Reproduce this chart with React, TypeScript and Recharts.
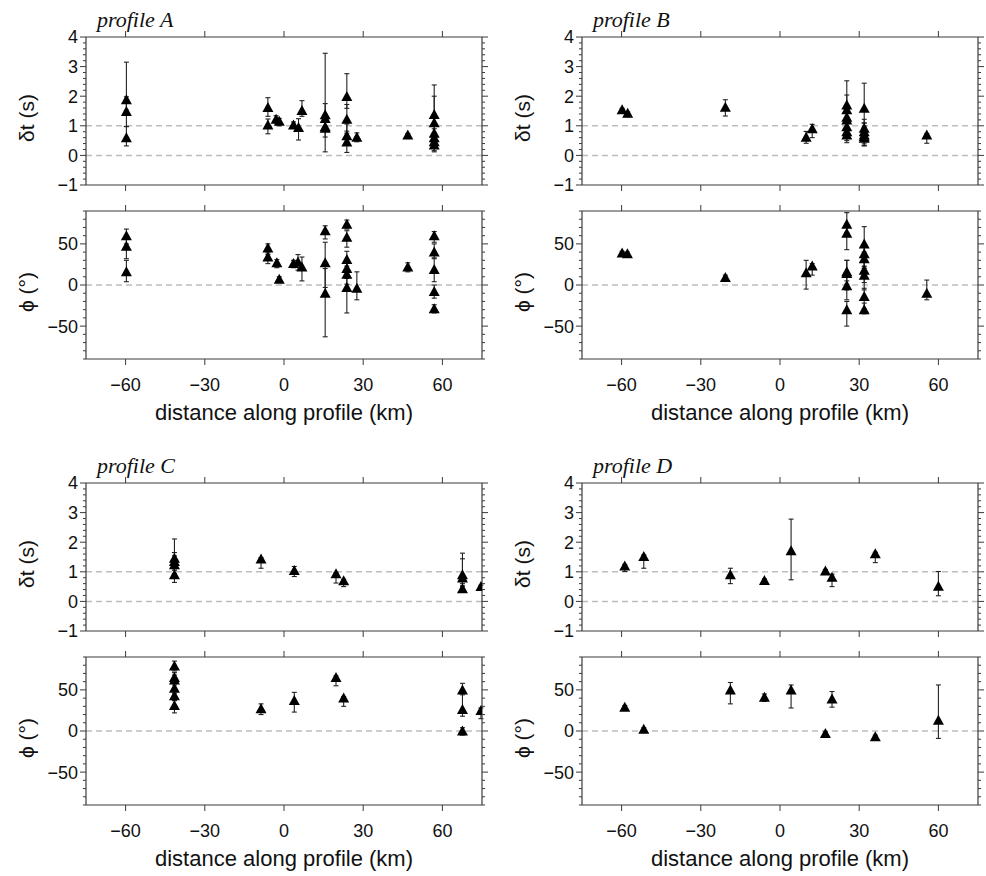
import React from 'react';
import { ScatterChart, Scatter, XAxis, YAxis, ErrorBar, ReferenceLine } from 'recharts';

// ---------- tick labels ----------
const X_TICKS = [-60, -30, 0, 30, 60];
const DT_TICKS = [-1, -0.8, -0.6, -0.4, -0.2, 0, 0.2, 0.4, 0.6, 0.8, 1, 1.2, 1.4, 1.6, 1.8, 2, 2.2, 2.4, 2.6, 2.8, 3, 3.2, 3.4, 3.6, 3.8, 4];
const PHI_TICKS = [-90, -80, -70, -60, -50, -40, -30, -20, -10, 0, 10, 20, 30, 40, 50, 60, 70, 80, 90];

// ---------- profile A ----------
const A_DT_X = [-59.7, -59.7, -59.7, -6.1, -6.1, -3.0, -1.8, 3.6, 5.5, 6.8, 15.6, 15.6, 15.6, 15.6, 23.8, 23.8, 23.8, 23.8, 27.6, 46.9, 56.9, 56.9, 56.9, 56.9, 56.9, 56.9];
const A_DT = [1.88, 1.48, 0.6, 1.62, 1.03, 1.22, 1.15, 1.03, 0.94, 1.52, 1.37, 1.25, 0.97, 0.92, 1.99, 1.22, 0.66, 0.45, 0.61, 0.69, 1.38, 1.1, 0.75, 0.6, 0.46, 0.35];
const A_DT_LO = [0.35, 0.5, 0.28, 0.3, 0.3, 0.12, 0.15, 0.1, 0.42, 0.2, 0.4, 0.3, 0.85, 0.3, 0.4, 0.4, 0.3, 0.35, 0.15, 0.12, 0.3, 0.4, 0.3, 0.3, 0.3, 0.23];
const A_DT_HI = [1.27, 0.5, 0.37, 0.33, 0.2, 0.12, 0.1, 0.1, 0.3, 0.33, 2.08, 0.5, 0.3, 0.2, 0.77, 0.5, 0.4, 0.3, 0.15, 0.05, 1.0, 0.9, 0.3, 0.3, 0.3, 0.2];

const A_PHI_X = [-59.7, -59.7, -59.7, -6.1, -6.1, -2.7, -1.8, 3.6, 5.3, 6.8, 15.6, 15.6, 15.6, 23.8, 23.8, 23.8, 23.8, 23.8, 23.8, 27.6, 46.9, 56.9, 56.9, 56.9, 56.9, 56.9];
const A_PHI = [60, 47, 16, 45, 34, 27, 7, 26, 28, 22, 66, 27, -10, 74, 58, 31, 20, 13, -3, -4, 22, 60, 40, 19, -8, -29];
const A_PHI_LO = [10, 15, 12, 8, 8, 6, 4, 5, 10, 17, 10, 30, 53, 6, 12, 15, 12, 12, 31, 14, 6, 8, 8, 15, 8, 5];
const A_PHI_HI = [8, 10, 14, 5, 5, 4, 3, 4, 9, 12, 6, 25, 30, 5, 8, 10, 10, 10, 15, 20, 5, 5, 10, 14, 8, 5];

// ---------- profile B ----------
const B_DT_X = [-59.8, -57.7, -20.7, 9.9, 12.2, 25.3, 25.3, 25.3, 25.3, 25.3, 25.3, 25.3, 31.9, 31.9, 31.9, 31.9, 31.9, 31.9, 55.6];
const B_DT = [1.54, 1.42, 1.63, 0.61, 0.9, 1.7, 1.54, 1.29, 1.2, 0.97, 0.8, 0.69, 1.59, 0.92, 0.8, 0.69, 0.63, 0.58, 0.69];
const B_DT_LO = [0.1, 0.12, 0.3, 0.2, 0.3, 0.5, 0.4, 0.4, 0.3, 0.3, 0.3, 0.26, 0.5, 0.3, 0.3, 0.3, 0.3, 0.26, 0.28];
const B_DT_HI = [0.05, 0.05, 0.25, 0.2, 0.15, 0.82, 0.5, 0.4, 0.3, 0.3, 0.3, 0.2, 0.85, 0.3, 0.3, 0.3, 0.3, 0.2, 0.05];

const B_PHI_X = [-59.8, -57.8, -20.7, 9.9, 12.2, 25.3, 25.3, 25.3, 25.3, 25.3, 25.3, 31.9, 31.9, 31.9, 31.9, 31.9, 31.9, 31.9, 55.6];
const B_PHI = [39, 38, 9, 15, 23, 74, 63, 16, 14, -1, -30, 50, 38, 32, 18, 12, -14, -30, -10];
const B_PHI_LO = [2, 2, 4, 20, 11, 10, 20, 15, 20, 17, 20, 20, 15, 12, 15, 18, 15, 5, 8];
const B_PHI_HI = [2, 2, 3, 15, 3, 14, 10, 14, 16, 6, 10, 21, 10, 8, 10, 10, 10, 8, 16];

// ---------- profile C ----------
const C_DT_X = [-41.5, -41.5, -41.5, -41.5, -8.7, 3.9, 19.7, 22.6, 67.6, 67.6, 67.6, 74.6];
const C_DT = [1.46, 1.35, 1.24, 0.9, 1.43, 1.04, 0.93, 0.7, 0.9, 0.79, 0.43, 0.5];
const C_DT_LO = [0.3, 0.3, 0.3, 0.26, 0.31, 0.2, 0.31, 0.2, 0.3, 0.3, 0.1, 0.1];
const C_DT_HI = [0.65, 0.3, 0.3, 0.2, 0.05, 0.14, 0.05, 0.05, 0.73, 0.65, 0.1, 0.05];

const C_PHI_X = [-41.5, -41.5, -41.5, -41.5, -41.5, -41.5, -8.7, 3.9, 19.7, 22.6, 67.6, 67.6, 67.6, 74.6];
const C_PHI = [79, 65, 62, 52, 43, 31, 27, 37, 65, 40, 50, 26, 0, 25];
const C_PHI_LO = [6, 6, 6, 6, 6, 9, 7, 14, 10, 10, 6, 8, 5, 10];
const C_PHI_HI = [6, 6, 6, 6, 6, 6, 6, 10, 2, 2, 8, 20, 4, 3];

// ---------- profile D ----------
const D_DT_X = [-58.8, -51.6, -18.8, -5.9, 4.2, 17.2, 19.7, 36.1, 60];
const D_DT = [1.2, 1.52, 0.9, 0.71, 1.71, 1.03, 0.82, 1.61, 0.51];
const D_DT_LO = [0.19, 0.4, 0.3, 0.05, 0.98, 0.1, 0.32, 0.3, 0.32];
const D_DT_HI = [0.05, 0.05, 0.22, 0.05, 1.07, 0.05, 0.1, 0.05, 0.5];

const D_PHI_X = [-58.8, -51.6, -18.8, -5.9, 4.2, 17.2, 19.7, 36.1, 60];
const D_PHI = [29, 2, 50, 41, 50, -3, 39, -7, 13];
const D_PHI_LO = [2, 2, 17, 5, 22, 2, 10, 2, 22];
const D_PHI_HI = [2, 2, 9, 4, 6, 2, 9, 2, 43];

// ---------- styling ----------
const AXIS = '#3a3a3a';
const SANS = '"Liberation Sans", Arial, Helvetica, sans-serif';
const SERIF = '"Liberation Serif", "Times New Roman", Times, serif';
const PL = 86;
const PT = 40;
const PW = 396;
const PH = 148;
const PR = 8;
const PB = 70;

const fmt = (v: number) => (v < 0 ? '\u2212' + Math.abs(v) : String(v));
const isMajor = (kind: string, v: number) =>
  kind === 'dt' ? Math.abs(v - Math.round(v)) < 1e-6 : Math.abs(v % 50) < 1e-6;

const Tri = (p: any) => {
  const { cx, cy } = p;
  if (cx == null || cy == null) return <g />;
  return (
    <polygon
      points={`${cx - 5.5},${cy + 4.5} ${cx + 5.5},${cy + 4.5} ${cx},${cy - 5.5}`}
      fill="#000"
    />
  );
};

type PanelProps = {
  left: number;
  top: number;
  kind: 'dt' | 'phi';
  xs: number[];
  ys: number[];
  lo: number[];
  hi: number[];
  title?: string;
  xLabels?: boolean;
};

function Panel({ left, top, kind, xs, ys, lo, hi, title, xLabels }: PanelProps) {
  const data = xs.map((x, i) => ({ x, y: ys[i], err: [lo[i], hi[i]] }));
  const domain: [number, number] = kind === 'dt' ? [-1, 4] : [-90, 90];
  const yTicks = kind === 'dt' ? DT_TICKS : PHI_TICKS;
  const yTitle = kind === 'dt' ? '\u03B4t (s)' : '\u03D5 (\u00B0)';

  const leftTick = (p: any) => {
    const { x, y, payload } = p;
    const v = payload.value;
    const major = isMajor(kind, v);
    return (
      <g>
        <line x1={x - (major ? 6 : 3)} x2={x} y1={y} y2={y} stroke={AXIS} strokeWidth={1} />
        {major && (
          <text x={x - 8} y={y} dy="0.36em" textAnchor="end" fontSize={18} fontFamily={SANS} fill="#111">
            {fmt(v)}
          </text>
        )}
      </g>
    );
  };
  const rightTick = (p: any) => {
    const { x, y, payload } = p;
    const major = isMajor(kind, payload.value);
    return <line x1={x} x2={x + (major ? 6 : 3)} y1={y} y2={y} stroke={AXIS} strokeWidth={1} />;
  };
  const topTick = (p: any) => {
    const { x, y } = p;
    return <line x1={x} x2={x} y1={y - 6} y2={y} stroke={AXIS} strokeWidth={1} />;
  };
  const bottomTick = (p: any) => {
    const { x, y, payload } = p;
    return (
      <g>
        <line x1={x} x2={x} y1={y} y2={y + 6} stroke={AXIS} strokeWidth={1} />
        {xLabels && (
          <text x={x} y={y + 31.5} textAnchor="middle" fontSize={18} fontFamily={SANS} fill="#111">
            {fmt(payload.value)}
          </text>
        )}
      </g>
    );
  };

  const yTitleX = PL - 52;
  const yTitleY = PT + PH / 2 + 7;

  return (
    <div style={{ position: 'absolute', left: left - PL, top: top - PT }}>
      <ScatterChart width={PL + PW + PR} height={PT + PH + PB} margin={{ top: 0, right: 0, bottom: 0, left: 0 }}>
        <XAxis
          xAxisId="b"
          type="number"
          dataKey="x"
          orientation="bottom"
          domain={[-75, 75]}
          ticks={X_TICKS}
          interval={0}
          allowDataOverflow
          height={PB}
          tickSize={0}
          tickMargin={0}
          tickLine={false}
          axisLine={{ stroke: AXIS, strokeWidth: 1.2 }}
          tick={bottomTick}
          label={
            xLabels
              ? {
                  content: () => (
                    <text x={PL + PW / 2} y={PT + PH + 61} textAnchor="middle" fontSize={22} fontFamily={SANS} fill="#111">
                      distance along profile (km)
                    </text>
                  ),
                }
              : undefined
          }
        />
        <XAxis
          xAxisId="t"
          type="number"
          dataKey="x"
          orientation="top"
          domain={[-75, 75]}
          ticks={X_TICKS}
          interval={0}
          allowDataOverflow
          height={PT}
          tickSize={0}
          tickMargin={0}
          tickLine={false}
          axisLine={{ stroke: AXIS, strokeWidth: 1.2 }}
          tick={topTick}
          label={
            title
              ? {
                  content: () => (
                    <text x={PL + 11} y={PT - 10} fontSize={22} fontStyle="italic" fontFamily={SERIF} fill="#111">
                      {title}
                    </text>
                  ),
                }
              : undefined
          }
        />
        <YAxis
          yAxisId="l"
          type="number"
          dataKey="y"
          orientation="left"
          domain={domain}
          ticks={yTicks}
          interval={0}
          allowDataOverflow
          width={PL}
          tickSize={0}
          tickMargin={0}
          tickLine={false}
          axisLine={{ stroke: AXIS, strokeWidth: 1.2 }}
          tick={leftTick}
          label={{
            content: () => (
              <text
                x={yTitleX}
                y={yTitleY}
                transform={`rotate(-90, ${yTitleX}, ${yTitleY})`}
                textAnchor="middle"
                fontSize={21}
                fontFamily={SANS}
                fill="#111"
              >
                {yTitle}
              </text>
            ),
          }}
        />
        <YAxis
          yAxisId="r"
          type="number"
          dataKey="y"
          orientation="right"
          domain={domain}
          ticks={yTicks}
          interval={0}
          allowDataOverflow
          width={PR}
          tickSize={0}
          tickMargin={0}
          tickLine={false}
          axisLine={{ stroke: AXIS, strokeWidth: 1.2 }}
          tick={rightTick}
        />
        {kind === 'dt' && (
          <ReferenceLine xAxisId="b" yAxisId="l" y={1} stroke="#bdbdbd" strokeWidth={1.5} strokeDasharray="6 4" />
        )}
        <ReferenceLine xAxisId="b" yAxisId="l" y={0} stroke="#bdbdbd" strokeWidth={1.5} strokeDasharray="6 4" />
        <Scatter
          xAxisId="b"
          yAxisId="l"
          data={data}
          dataKey="y"
          shape={Tri}
          isAnimationActive={false}
        >
          <ErrorBar dataKey="err" direction="y" width={2.5} stroke="#222" strokeWidth={1.1} isAnimationActive={false} />
        </Scatter>
      </ScatterChart>
    </div>
  );
}

export default function App() {
  const L1 = 86;
  const L2 = 582;
  const T_DT1 = 37;
  const T_PHI1 = 211;
  const T_DT2 = 483;
  const T_PHI2 = 657;
  return (
    <div style={{ position: 'absolute', left: 0, top: 0, width: 986, height: 876, background: '#fff', overflow: 'hidden' }}>
      <Panel left={L1} top={T_DT1} kind="dt" xs={A_DT_X} ys={A_DT} lo={A_DT_LO} hi={A_DT_HI} title="profile A" />
      <Panel left={L1} top={T_PHI1} kind="phi" xs={A_PHI_X} ys={A_PHI} lo={A_PHI_LO} hi={A_PHI_HI} xLabels />
      <Panel left={L2} top={T_DT1} kind="dt" xs={B_DT_X} ys={B_DT} lo={B_DT_LO} hi={B_DT_HI} title="profile B" />
      <Panel left={L2} top={T_PHI1} kind="phi" xs={B_PHI_X} ys={B_PHI} lo={B_PHI_LO} hi={B_PHI_HI} xLabels />
      <Panel left={L1} top={T_DT2} kind="dt" xs={C_DT_X} ys={C_DT} lo={C_DT_LO} hi={C_DT_HI} title="profile C" />
      <Panel left={L1} top={T_PHI2} kind="phi" xs={C_PHI_X} ys={C_PHI} lo={C_PHI_LO} hi={C_PHI_HI} xLabels />
      <Panel left={L2} top={T_DT2} kind="dt" xs={D_DT_X} ys={D_DT} lo={D_DT_LO} hi={D_DT_HI} title="profile D" />
      <Panel left={L2} top={T_PHI2} kind="phi" xs={D_PHI_X} ys={D_PHI} lo={D_PHI_LO} hi={D_PHI_HI} xLabels />
    </div>
  );
}
